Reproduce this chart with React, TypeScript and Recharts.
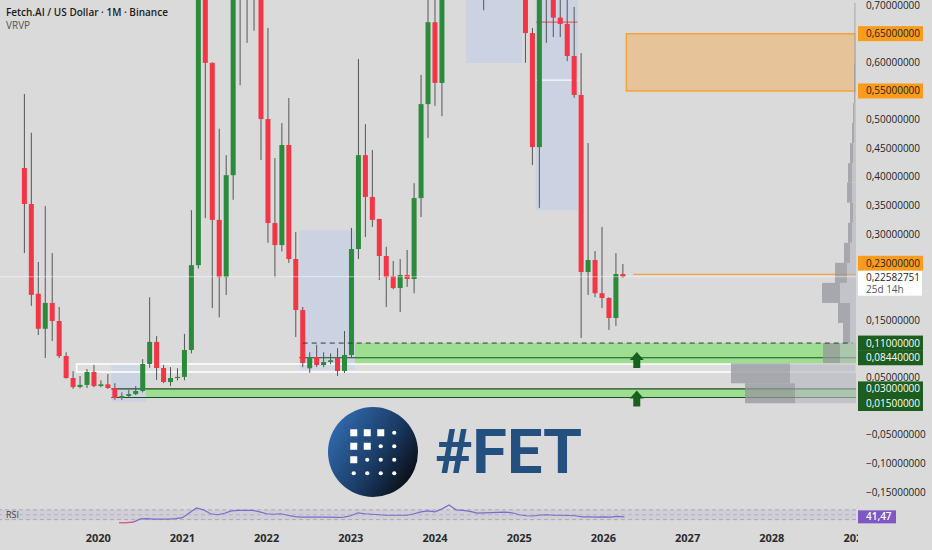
import React from 'react';
import {
  ComposedChart,
  LineChart,
  Bar,
  Line,
  XAxis,
  YAxis,
  ReferenceArea,
  ReferenceLine,
  ReferenceDot,
} from 'recharts';

const BG = '#dadada';
const FONT = '"Open Sans", "Noto Sans", sans-serif';
const GREEN = '#2c8a3b';
const RED = '#f23645';

// month slots of the time axis: Nov 2018 .. Jan 2029
const axisFirst = { year: 2018, month: 11 };
const axisSlots = 123;
const months: string[] = Array.from({ length: axisSlots }, (_, i) => {
  const t = axisFirst.year * 12 + axisFirst.month - 1 + i;
  return `${Math.floor(t / 12)}-${String((t % 12) + 1).padStart(2, '0')}`;
});
const yearTicks = ['2020-01', '2021-01', '2022-01', '2023-01', '2024-01', '2025-01', '2026-01', '2027-01', '2028-01', '2029-01'];

// FET/USD monthly candles from Feb 2019 (anything above ~0.71 is off screen)
const candleFirst = '2019-02';
const open = [
  0.4155, 0.3527, 0.196, 0.135, 0.18, 0.1485, 0.0874, 0.049, 0.0333, 0.037, 0.0595,
  0.035, 0.038, 0.0316, 0.0141, 0.0176, 0.021, 0.0264, 0.0735, 0.112, 0.0665, 0.042, 0.049,
  0.051, 0.098, 0.246, 0.76, 0.599, 0.325, 0.225, 0.403, 0.9, 0.85, 0.8, 0.85,
  0.501, 0.3195, 0.281, 0.4557, 0.2567, 0.1677, 0.066, 0.0857, 0.0717, 0.077, 0.084, 0.0613,
  0.0892, 0.2742, 0.438, 0.365, 0.3265, 0.262, 0.227, 0.206, 0.2288, 0.2218, 0.363, 0.527,
  0.67, 0.564, 1.3, 2.9, 2.0, 2.2, 1.35, 1.1, 1.0, 1.55, 1.3, 1.55,
  1.3, 0.8, 0.651, 0.452, 0.76, 0.8, 0.678, 0.667, 0.611, 0.543, 0.234, 0.255,
  0.197, 0.1887, 0.1538, 0.2305,
];
const high = [
  0.5447, 0.477, 0.2515, 0.349, 0.267, 0.173, 0.094, 0.061, 0.0525, 0.0647, 0.072,
  0.045, 0.056, 0.04, 0.024, 0.028, 0.035, 0.082, 0.19, 0.122, 0.072, 0.068, 0.066,
  0.126, 0.342, 0.8, 0.9, 0.6, 0.484, 0.438, 0.95, 1.19, 1.0, 1.0, 0.95,
  0.66, 0.433, 0.494, 0.5377, 0.304, 0.173, 0.094, 0.107, 0.094, 0.092, 0.101, 0.131,
  0.311, 0.6058, 0.492, 0.447, 0.327, 0.278, 0.2532, 0.2567, 0.2724, 0.389, 0.578, 0.78,
  0.8, 1.4, 3.47, 3.2, 2.5, 2.2, 1.6, 1.2, 1.6, 1.7, 1.7, 2.35,
  1.5, 0.95, 0.66, 0.85, 1.0, 0.85, 0.8, 0.75, 0.6965, 0.616, 0.459, 0.2707,
  0.3126, 0.19, 0.267, 0.248,
];
const low = [
  0.267, 0.175, 0.124, 0.084, 0.1136, 0.0839, 0.048, 0.03, 0.031, 0.0316, 0.033,
  0.033, 0.03, 0.011, 0.011, 0.015, 0.019, 0.024, 0.067, 0.0455, 0.04, 0.035, 0.045,
  0.045, 0.092, 0.24, 0.328, 0.171, 0.155, 0.194, 0.36, 0.56, 0.634, 0.655, 0.4295,
  0.285, 0.225, 0.27, 0.25, 0.1206, 0.068, 0.058, 0.068, 0.068, 0.073, 0.0525, 0.058,
  0.085, 0.2567, 0.295, 0.3126, 0.22, 0.173, 0.204, 0.164, 0.208, 0.197, 0.33, 0.468,
  0.524, 0.506, 1.2, 1.8, 1.85, 1.1, 0.78, 0.691, 0.95, 1.2, 1.1, 1.2,
  0.78, 0.599, 0.4207, 0.346, 0.634, 0.644, 0.644, 0.602, 0.538, 0.119, 0.194, 0.19,
  0.171, 0.133, 0.14, 0.224,
];
const close = [
  0.3527, 0.194, 0.135, 0.18, 0.1485, 0.0874, 0.049, 0.0333, 0.037, 0.0595, 0.035,
  0.038, 0.0316, 0.0141, 0.0176, 0.021, 0.0264, 0.0735, 0.112, 0.0665, 0.042, 0.049, 0.051,
  0.098, 0.246, 0.76, 0.599, 0.325, 0.225, 0.403, 0.9, 0.85, 0.8, 0.85, 0.501,
  0.3195, 0.281, 0.4557, 0.2567, 0.1677, 0.0752, 0.0857, 0.0717, 0.077, 0.08, 0.0613, 0.0892,
  0.2742, 0.438, 0.365, 0.325, 0.262, 0.225, 0.206, 0.2288, 0.2218, 0.363, 0.527, 0.67,
  0.564, 1.3, 2.9, 2.0, 2.2, 1.35, 1.1, 1.0, 1.55, 1.3, 1.55, 1.3,
  0.8, 0.651, 0.452, 0.76, 0.8, 0.678, 0.667, 0.611, 0.543, 0.234, 0.255, 0.197,
  0.1887, 0.1538, 0.2305, 0.2258,
];

// RSI(14), monthly, from Apr 2020
const rsiFirst = '2020-04';
const rsiOversoldLast = '2020-06';
const rsi = [
  18, 18, 20, 33, 34, 32, 32, 32, 34,
  38, 58, 78, 70, 54, 50, 56, 66, 68, 68, 68, 62,
  54, 52, 54, 48, 42, 40, 40, 40, 40, 40, 39, 40,
  46, 58, 54, 52, 50, 48, 48, 48, 48, 54, 62, 66,
  62, 74, 90, 70, 68, 64, 57, 58, 59, 60, 61, 58,
  50, 46, 45, 49, 50, 48, 48, 47, 46, 41, 41, 40,
  41, 40, 43, 41.47,
];
const rsiLast = 41.47;

// price axis
const priceMin = -0.16736;
const priceMax = 0.70873;
const priceTicks = [0.7, 0.6, 0.5, 0.45, 0.4, 0.35, 0.3, 0.15, 0.05, -0.05, -0.1, -0.15];
const lastPrice = 0.22582751;
const countdown = '25d 14h';
const orangeLevels = [0.65, 0.55, 0.23];
const greenLevels = [0.11, 0.0844, 0.03, 0.015];

// drawn zones
const resistance = { from: '2026-05', low: 0.55, high: 0.65 };
const priceLine = { from: '2026-06', level: 0.23 };
const supportUpper = { from: '2023-02', lineFrom: '2022-06', low: 0.075, high: 0.11, base: 0.0844 };
const supportLower = { from: '2020-08', lineFrom: '2020-03', low: 0.015, high: 0.03 };
const rangeBox = { from: '2019-10', low: 0.0597, high: 0.0735 };
const arrowMonth = '2026-06';
const arrowPrices = [0.0805, 0.0133];

// fixed range volume profile boxes
const profileRanges = [
  { from: '2020-03', to: '2020-07', low: 0.0072, high: 0.0735 },
  { from: '2022-06', to: '2023-01', low: 0.063, high: 0.307 },
  { from: '2024-06', to: '2025-01', low: 0.599, high: 1.5 },
  { from: '2025-04', to: '2025-09', low: 0.342, high: 1.5 },
];
const profilePoc = { from: '2025-04', to: '2025-09', poc: 0.67, va: 0.569 };

// visible range volume profile (right edge)
const vpEdges = [0.005, 0.04, 0.075, 0.11, 0.145, 0.18, 0.215, 0.25, 0.285, 0.32, 0.355, 0.39, 0.424, 0.459, 0.494, 0.529, 0.564, 0.599, 0.634, 0.669, 0.704];
const vpUp = [30.5, 33, 8, 3, 3, 8, 4.5, 3, 2, 1.5, 2, 2, 1.5, 1, 0.8, 0.5, 0.5, 0.5, 0.5, 0.5];
const vpDown = [25, 29.5, 8.5, 3.5, 6, 9, 6, 3, 2, 1.5, 2.5, 2, 1.5, 1, 0.7, 0.5, 0.5, 0.3, 0.3, 0.3];
const vpScaleMax = 428;

const c0 = months.indexOf(candleFirst);
const r0 = months.indexOf(rsiFirst);
const rOver = months.indexOf(rsiOversoldLast);
const rows = months.map((m, i) => {
  const k = i - c0;
  const j = i - r0;
  const has = k >= 0 && k < open.length;
  const hasR = j >= 0 && j < rsi.length;
  return {
    m,
    o: has ? open[k] : null,
    h: has ? high[k] : null,
    l: has ? low[k] : null,
    c: has ? close[k] : null,
    rsi: hasR ? rsi[j] : null,
    rsiLow: hasR && i <= rOver ? rsi[j] : null,
  };
});

const pxPrice = (priceMax - priceMin) / 502;
const fmt = (v: number) => (v < 0 ? '\u2212' : '') + Math.abs(v).toFixed(8).replace('.', ',');

const Candle = (props: any) => {
  const { x, y, width, height, payload } = props;
  if (!payload || payload.o == null) return null;
  const { o, h, l, c } = payload;
  const top = Math.min(y, y + height);
  const k = Math.abs(height) / (h - l);
  const py = (v: number) => top + (h - v) * k;
  const cx = x + width / 2;
  const bodyTop = py(Math.max(o, c));
  const bodyH = Math.max(1, py(Math.min(o, c)) - bodyTop);
  return (
    <g>
      <line x1={cx} x2={cx} y1={py(h)} y2={py(l)} stroke="#555" strokeWidth={1} />
      <rect x={x} y={bodyTop} width={width} height={bodyH} fill={c >= o ? GREEN : RED} />
    </g>
  );
};

const PriceTick = (props: any) => {
  const { x, y, payload } = props;
  const v: number = payload.value;
  if (v === lastPrice) {
    return (
      <g fontFamily={FONT} fontSize={10}>
        <rect x={x + 2} y={y - 6} width={64} height={25} fill="#ffffff" />
        <text x={x + 10} y={y + 1} dy="0.35em" fill="#1e1e1e">{fmt(v)}</text>
        <text x={x + 10} y={y + 13} dy="0.35em" fill="#555">{countdown}</text>
      </g>
    );
  }
  const ty = y + (v === 0.23 ? -11 : v === 0.015 ? 6 : 0);
  const orange = orangeLevels.includes(v);
  const green = greenLevels.includes(v);
  return (
    <g fontFamily={FONT} fontSize={10}>
      {(orange || green) && (
        <rect x={x + 2} y={ty - 7.5} width={65} height={15} fill={orange ? '#fb9b1b' : '#1b5e20'} />
      )}
      <text x={x + 10} y={ty} dy="0.35em" fill={green ? '#ffffff' : '#222'}>{fmt(v)}</text>
    </g>
  );
};

const RsiTick = (props: any) => {
  const { x, y, payload } = props;
  return (
    <g fontFamily={FONT} fontSize={10}>
      <rect x={x + 2} y={y - 6.5} width={38} height={13} fill="#7e57c2" />
      <text x={x + 10} y={y} dy="0.35em" fill="#fff" fontWeight={600}>
        {payload.value.toFixed(2).replace('.', ',')}
      </text>
    </g>
  );
};

const YearTick = (props: any) => {
  const { x, y, payload } = props;
  return (
    <text x={x} y={y + 15} textAnchor="middle" fontSize={11} fontWeight={700} fill="#2b2b2b" fontFamily={FONT}>
      {String(payload.value).slice(0, 4)}
    </text>
  );
};

const ArrowUp = (props: any) => {
  const { cx, cy } = props;
  return (
    <path
      d={`M${cx} ${cy - 8} L${cx + 7} ${cy} L${cx + 3.5} ${cy} L${cx + 3.5} ${cy + 8} L${cx - 3.5} ${cy + 8} L${cx - 3.5} ${cy} L${cx - 7} ${cy} Z`}
      fill="#17601f"
    />
  );
};

// a horizontal line from a month to the right edge, drawn as a 1px tall area
const hLine = (key: string, level: number, from: string, color: string, to?: string) => (
  <ReferenceArea
    key={key}
    x1={from}
    x2={to}
    y1={level - pxPrice * 0.6}
    y2={level + pxPrice * 0.6}
    fill={color}
    fillOpacity={1}
    stroke="none"
    ifOverflow="hidden"
  />
);

const logoPattern = ['sssd', 'ssdd', 'sddd', 'dddd'];

export default function App() {
  return (
    <div style={{ position: 'absolute', left: 0, top: 0, width: 932, height: 550, background: BG, overflow: 'hidden' }}>
      <div style={{ position: 'absolute', left: 0, top: 0 }}>
        <ComposedChart width={932} height={502} data={rows} margin={{ top: 0, right: 0, bottom: 0, left: 0 }}>
          <XAxis dataKey="m" hide />
          <XAxis
            xAxisId="vp"
            dataKey="vol"
            type="number"
            scale="linear"
            domain={[0, vpScaleMax]}
            allowDataOverflow
            reversed
            hide
          />
          <YAxis
            orientation="right"
            width={76}
            domain={[priceMin, priceMax]}
            allowDataOverflow
            ticks={[...priceTicks, ...orangeLevels, lastPrice, ...greenLevels]}
            interval={0}
            axisLine={false}
            tickLine={false}
            tickSize={0}
            tickMargin={0}
            tick={(p: any) => <PriceTick {...p} />}
          />
          <Bar
            dataKey={(d: any) => (d.o == null ? null : [d.l, d.h])}
            shape={(p: any) => <Candle {...p} />}
            barSize={5}
            isAnimationActive={false}
          />
          <ReferenceLine y={lastPrice} stroke="rgba(255,255,255,0.5)" strokeWidth={1} />
          {profileRanges.map((r, i) => (
            <ReferenceArea
              key={'pr' + i}
              x1={r.from}
              x2={r.to}
              y1={r.low}
              y2={r.high}
              fill="rgba(178,198,236,0.38)"
              fillOpacity={1}
              stroke="none"
              ifOverflow="hidden"
            />
          ))}
          {hLine('poc', profilePoc.poc, profilePoc.from, 'rgba(240,70,85,0.85)', profilePoc.to)}
          {hLine('va', profilePoc.va, profilePoc.from, 'rgba(255,255,255,0.9)', profilePoc.to)}
          <ReferenceArea
            x1={rangeBox.from}
            y1={rangeBox.low}
            y2={rangeBox.high}
            fill="rgba(255,255,255,0.12)"
            fillOpacity={1}
            stroke="#ffffff"
            strokeWidth={1.5}
            ifOverflow="hidden"
          />
          <ReferenceArea
            x1={supportUpper.from}
            y1={supportUpper.low}
            y2={supportUpper.high}
            fill="rgba(110,225,90,0.55)"
            fillOpacity={1}
            stroke="none"
            ifOverflow="hidden"
          />
          <ReferenceLine
            segment={[{ x: supportUpper.lineFrom, y: supportUpper.high }, { x: months[months.length - 1], y: supportUpper.high }]}
            stroke="#2d3f2d"
            strokeDasharray="5 4"
            strokeWidth={1}
          />
          {hLine('base1', supportUpper.base, supportUpper.lineFrom, '#1c4f1f')}
          <ReferenceArea
            x1={supportLower.from}
            y1={supportLower.low}
            y2={supportLower.high}
            fill="rgba(110,225,90,0.55)"
            fillOpacity={1}
            stroke="none"
            ifOverflow="hidden"
          />
          {hLine('sl1', supportLower.high, supportLower.lineFrom, '#1c4f1f')}
          {hLine('sl2', supportLower.low, supportLower.lineFrom, '#1c4f1f')}
          <ReferenceArea
            x1={resistance.from}
            y1={resistance.low}
            y2={resistance.high}
            fill="rgba(245,166,70,0.45)"
            fillOpacity={1}
            stroke="#f5a33b"
            strokeWidth={1.5}
            ifOverflow="hidden"
          />
          {hLine('pl', priceLine.level, priceLine.from, '#f5a33b')}
          {vpUp.map((u, i) => (
            <ReferenceArea
              key={'vu' + i}
              xAxisId="vp"
              x1={0}
              x2={u}
              y1={vpEdges[i]}
              y2={vpEdges[i + 1]}
              fill="rgb(180,182,190)"
              fillOpacity={0.62}
              stroke="none"
              ifOverflow="hidden"
            />
          ))}
          {vpDown.map((d, i) => (
            <ReferenceArea
              key={'vd' + i}
              xAxisId="vp"
              x1={vpUp[i]}
              x2={vpUp[i] + d}
              y1={vpEdges[i]}
              y2={vpEdges[i + 1]}
              fill="rgb(150,151,157)"
              fillOpacity={0.75}
              stroke="none"
              ifOverflow="hidden"
            />
          ))}
          {arrowPrices.map((p, i) => (
            <ReferenceDot key={'ar' + i} x={arrowMonth} y={p} r={8} shape={(s: any) => <ArrowUp {...s} />} />
          ))}
        </ComposedChart>
      </div>
      <div style={{ position: 'absolute', left: 0, top: 502 }}>
        <LineChart width={932} height={48} data={rows} margin={{ top: 0.5, right: 0, bottom: 0, left: 0 }}>
          <XAxis
            dataKey="m"
            ticks={yearTicks}
            interval={0}
            axisLine={false}
            tickLine={false}
            tickSize={0}
            tickMargin={0}
            height={23}
            tick={(p: any) => <YearTick {...p} />}
          />
          <YAxis
            orientation="right"
            width={76}
            domain={[0, 100]}
            ticks={[rsiLast]}
            interval={0}
            axisLine={false}
            tickLine={false}
            tickSize={0}
            tickMargin={0}
            tick={(p: any) => <RsiTick {...p} />}
          />
          <ReferenceArea y1={30} y2={70} fill="rgba(126,87,194,0.09)" fillOpacity={1} stroke="none" />
          <ReferenceLine y={70} stroke="#a8a8ae" strokeDasharray="4 3" />
          <ReferenceLine y={50} stroke="#b4b4ba" strokeDasharray="4 3" />
          <ReferenceLine y={30} stroke="#a8a8ae" strokeDasharray="4 3" />
          <Line dataKey="rsi" stroke="#7f6bcc" strokeWidth={1.2} dot={false} isAnimationActive={false} />
          <Line dataKey="rsiLow" stroke="#e0607e" strokeWidth={1.4} dot={false} isAnimationActive={false} />
        </LineChart>
      </div>
      <div style={{ position: 'absolute', left: 858, top: 527, width: 74, height: 23, background: BG }} />
      <svg width={932} height={550} style={{ position: 'absolute', left: 0, top: 0, pointerEvents: 'none' }}>
        <defs>
          <linearGradient id="fetGrad" x1="0.08" y1="0.25" x2="0.95" y2="0.8">
            <stop offset="0" stopColor="#2f66a8" />
            <stop offset="0.55" stopColor="#1a3a63" />
            <stop offset="1" stopColor="#0a0d14" />
          </linearGradient>
        </defs>
        <text x={6} y={15.5} fontFamily={FONT} fontSize={10} fontWeight={600} fill="#1c1c1c">
          Fetch.AI / US Dollar · 1M · Binance
        </text>
        <text x={6} y={28.5} fontFamily={FONT} fontSize={10} fill="#555">VRVP</text>
        <text x={6} y={518} fontFamily={FONT} fontSize={9} fill="#444">RSI</text>
        <circle cx={373} cy={452} r={45} fill="url(#fetGrad)" />
        {logoPattern.map((row, r) =>
          row.split('').map((cell, col) => {
            const cx = 353.75 + col * 13.5;
            const cy = 432.75 + r * 13.5;
            return cell === 's' ? (
              <rect key={`${r}-${col}`} x={cx - 3.5} y={cy - 3.5} width={7} height={7} fill="#ffffff" />
            ) : (
              <circle key={`${r}-${col}`} cx={cx} cy={cy} r={2.1} fill="#ffffff" />
            );
          })
        )}
        <text
          x={435}
          y={473}
          fontFamily="Roboto, 'Open Sans', sans-serif"
          fontSize={62}
          fontWeight={700}
          fill="#24507f"
          textLength={147}
          lengthAdjust="spacingAndGlyphs"
        >
          #FET
        </text>
      </svg>
    </div>
  );
}
